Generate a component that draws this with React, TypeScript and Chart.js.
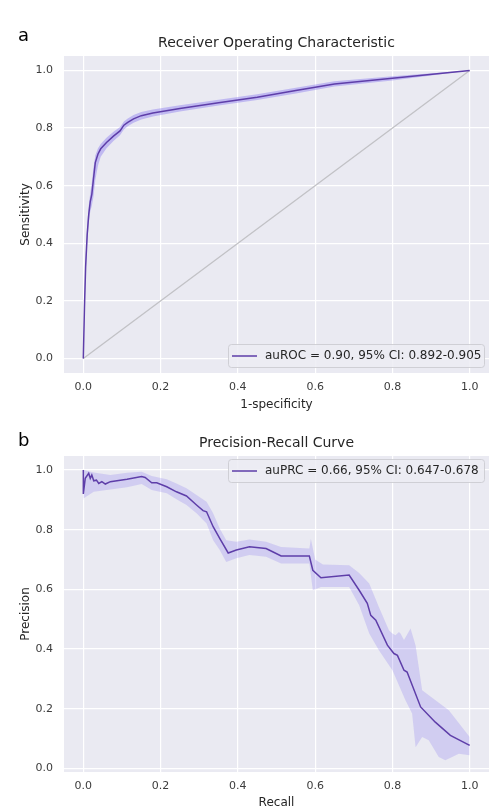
import React, { useEffect, useRef } from "react";
import { Chart, registerables } from "chart.js";

Chart.register(...registerables);

// ---- tick positions shared by both panels ----
const tickValues = [0, 0.2, 0.4, 0.6, 0.8, 1.0];

// ---- ROC curve: mean curve and 95% CI band ----
const rocFpr = [0, 0.003, 0.006, 0.01, 0.014, 0.018, 0.022, 0.026, 0.031, 0.038, 0.045, 0.06, 0.078, 0.095, 0.105, 0.115, 0.13, 0.15, 0.18, 0.25, 0.35, 0.45, 0.55, 0.65, 0.8, 1.0];
const rocTpr = [0, 0.18, 0.32, 0.43, 0.5, 0.545, 0.57, 0.62, 0.68, 0.71, 0.728, 0.75, 0.772, 0.79, 0.81, 0.82, 0.832, 0.843, 0.852, 0.868, 0.888, 0.907, 0.93, 0.953, 0.973, 1.0];
const rocTprUpper = [0, 0.21, 0.35, 0.46, 0.53, 0.575, 0.61, 0.66, 0.705, 0.73, 0.745, 0.766, 0.787, 0.804, 0.823, 0.833, 0.845, 0.856, 0.864, 0.879, 0.898, 0.917, 0.94, 0.962, 0.98, 1.0];
const rocTprLower = [0, 0.15, 0.29, 0.4, 0.47, 0.51, 0.53, 0.56, 0.62, 0.67, 0.7, 0.73, 0.755, 0.775, 0.795, 0.806, 0.818, 0.83, 0.84, 0.857, 0.878, 0.897, 0.92, 0.944, 0.965, 1.0];
const chanceX = [0, 1];
const chanceY = [0, 1];

// ---- Precision-recall curve and 95% CI band ----
const prRecall = [0, 0, 0.005, 0.014, 0.018, 0.022, 0.027, 0.034, 0.04, 0.048, 0.057, 0.07, 0.113, 0.151, 0.16, 0.177, 0.19, 0.216, 0.241, 0.267, 0.293, 0.31, 0.319, 0.336, 0.353, 0.375, 0.396, 0.43, 0.473, 0.49, 0.512, 0.585, 0.594, 0.615, 0.688, 0.714, 0.735, 0.744, 0.757, 0.787, 0.804, 0.813, 0.83, 0.838, 0.873, 0.911, 0.95, 1.0];
const prPrecision = [1.0, 0.92, 0.972, 0.989, 0.972, 0.983, 0.964, 0.966, 0.955, 0.961, 0.953, 0.961, 0.969, 0.978, 0.975, 0.957, 0.957, 0.944, 0.927, 0.913, 0.883, 0.864, 0.86, 0.81, 0.771, 0.722, 0.732, 0.743, 0.737, 0.726, 0.712, 0.712, 0.664, 0.639, 0.648, 0.597, 0.553, 0.513, 0.497, 0.413, 0.385, 0.379, 0.329, 0.323, 0.206, 0.155, 0.111, 0.077];

const prUpperRecall = [0, 0.001, 0.027, 0.07, 0.113, 0.151, 0.177, 0.216, 0.241, 0.267, 0.293, 0.319, 0.336, 0.353, 0.37, 0.396, 0.43, 0.473, 0.512, 0.585, 0.589, 0.6, 0.62, 0.688, 0.714, 0.74, 0.765, 0.791, 0.799, 0.808, 0.817, 0.821, 0.83, 0.847, 0.86, 0.877, 0.946, 1.0];
const prUpperPrecision = [1.0, 1.0, 0.992, 0.983, 0.991, 0.994, 0.98, 0.969, 0.955, 0.939, 0.916, 0.894, 0.855, 0.804, 0.765, 0.76, 0.767, 0.76, 0.742, 0.737, 0.77, 0.7, 0.683, 0.681, 0.655, 0.62, 0.541, 0.463, 0.453, 0.446, 0.457, 0.452, 0.43, 0.469, 0.412, 0.262, 0.195, 0.105];

const prLowerRecall = [0, 0.001, 0.027, 0.07, 0.113, 0.151, 0.177, 0.216, 0.241, 0.267, 0.293, 0.319, 0.336, 0.353, 0.37, 0.396, 0.43, 0.473, 0.512, 0.585, 0.594, 0.615, 0.688, 0.714, 0.74, 0.765, 0.8, 0.834, 0.851, 0.86, 0.877, 0.894, 0.92, 0.937, 0.972, 1.0];
const prLowerPrecision = [0.9, 0.905, 0.927, 0.935, 0.942, 0.953, 0.933, 0.922, 0.902, 0.883, 0.855, 0.821, 0.765, 0.732, 0.692, 0.704, 0.715, 0.709, 0.687, 0.687, 0.597, 0.608, 0.608, 0.547, 0.452, 0.396, 0.329, 0.228, 0.184, 0.071, 0.105, 0.094, 0.038, 0.027, 0.049, 0.044];

const rocLegend = "auROC = 0.90, 95% CI: 0.892-0.905";
const prLegend = "auPRC = 0.66, 95% CI: 0.647-0.678";

// ---- styling ----
const FONT = "'DejaVu Sans', 'Noto Sans', sans-serif";
const TEXT = "#262626";
const TICK_TEXT = "#3c3c3c";
const AXES_BG = "#eaeaf2";
const LINE = "#5e3ea9";
const BAND_ROC = "rgba(123, 104, 238, 0.38)";
const BAND_PR = "rgba(123, 104, 238, 0.22)";
const CHANCE = "#c2c2c6";
const CLEAR = "rgba(0,0,0,0)";

const points = (xs: number[], ys: number[]) => xs.map((x, i) => ({ x, y: ys[i] }));

// Paints the grey axes background under the grid.
const axesBackground = {
  id: "axesBackground",
  beforeDraw(chart: any) {
    const { ctx, chartArea } = chart;
    ctx.save();
    ctx.fillStyle = AXES_BG;
    ctx.fillRect(chartArea.left, chartArea.top, chartArea.right - chartArea.left, chartArea.bottom - chartArea.top);
    ctx.restore();
  },
};

// Panel letter, title and framed legend.
const panelDecor = {
  id: "panelDecor",
  afterDraw(chart: any, _args: any, opts: any) {
    const { ctx, chartArea } = chart;
    ctx.save();

    ctx.fillStyle = "#000";
    ctx.font = `18px ${FONT}`;
    ctx.textAlign = "left";
    ctx.textBaseline = "alphabetic";
    ctx.fillText(opts.letter, 18, chartArea.top - opts.letterOffset);

    ctx.fillStyle = TEXT;
    ctx.font = `14px ${FONT}`;
    ctx.textAlign = "center";
    ctx.fillText(opts.title, (chartArea.left + chartArea.right) / 2, chartArea.top - 9.5);

    const w = 256;
    const h = 23;
    const x = chartArea.right - 5 - w;
    const y = opts.legendLower ? chartArea.bottom - 6 - h : chartArea.top + 3;
    ctx.beginPath();
    ctx.roundRect(x + 0.5, y + 0.5, w, h, 3);
    ctx.fillStyle = "rgba(236, 236, 243, 0.85)";
    ctx.fill();
    ctx.strokeStyle = "rgba(204, 204, 210, 0.9)";
    ctx.lineWidth = 1;
    ctx.stroke();

    const cy = y + h / 2 + 0.5;
    ctx.beginPath();
    ctx.moveTo(x + 4, cy);
    ctx.lineTo(x + 29, cy);
    ctx.strokeStyle = LINE;
    ctx.lineWidth = 1.5;
    ctx.stroke();

    ctx.fillStyle = TEXT;
    ctx.font = `12px ${FONT}`;
    ctx.textAlign = "left";
    ctx.textBaseline = "middle";
    ctx.fillText(opts.legend, x + 37, cy);

    ctx.restore();
  },
};

function axis(title: string, min: number, max: number, horizontal: boolean, size: number) {
  return {
    type: "linear",
    min,
    max,
    afterBuildTicks: (s: any) => {
      s.ticks = tickValues.map((value) => ({ value }));
    },
    afterFit: (s: any) => {
      if (horizontal) s.height = size;
      else s.width = size;
    },
    grid: { color: "#ffffff", lineWidth: 1.2, drawTicks: false },
    border: { display: false },
    ticks: {
      padding: horizontal ? 8 : 11,
      color: TICK_TEXT,
      font: { family: FONT, size: 11 },
      callback: (v: any) => Number(v).toFixed(1),
    },
    title: {
      display: true,
      text: title,
      color: TEXT,
      font: { family: FONT, size: 12 },
      padding: horizontal ? { top: 0, bottom: 0 } : { top: 19, bottom: 0 },
    },
  };
}

function rocConfig(): any {
  return {
    type: "line",
    data: {
      datasets: [
        { label: rocLegend, data: points(rocFpr, rocTpr), borderColor: LINE, borderWidth: 1.5, pointRadius: 0, fill: false },
        { label: "upper", data: points(rocFpr, rocTprUpper), borderColor: CLEAR, borderWidth: 0, pointRadius: 0, fill: false },
        { label: "lower", data: points(rocFpr, rocTprLower), borderColor: CLEAR, borderWidth: 0, pointRadius: 0, fill: "-1", backgroundColor: BAND_ROC },
        { label: "chance", data: points(chanceX, chanceY), borderColor: CHANCE, borderWidth: 1.3, pointRadius: 0, fill: false },
      ],
    },
    options: {
      animation: false,
      responsive: false,
      events: [],
      layout: { padding: { top: 56, left: 0, right: 1, bottom: 0 } },
      plugins: {
        legend: { display: false },
        tooltip: { enabled: false },
        panelDecor: { letter: "a", letterOffset: 15, title: "Receiver Operating Characteristic", legend: rocLegend, legendLower: true },
      },
      scales: {
        x: axis("1-specificity", -0.05, 1.05, true, 39),
        y: axis("Sensitivity", -0.05, 1.05, false, 64),
      },
    },
    plugins: [axesBackground, panelDecor],
  };
}

function prConfig(): any {
  return {
    type: "line",
    data: {
      datasets: [
        { label: prLegend, data: points(prRecall, prPrecision), borderColor: LINE, borderWidth: 1.5, pointRadius: 0, fill: false },
        { label: "upper", data: points(prUpperRecall, prUpperPrecision), borderColor: CLEAR, borderWidth: 0, pointRadius: 0, fill: false },
        { label: "lower", data: points(prLowerRecall, prLowerPrecision), borderColor: CLEAR, borderWidth: 0, pointRadius: 0, fill: "-1", backgroundColor: BAND_PR },
      ],
    },
    options: {
      animation: false,
      responsive: false,
      events: [],
      layout: { padding: { top: 46, left: 0, right: 1, bottom: 0 } },
      plugins: {
        legend: { display: false },
        tooltip: { enabled: false },
        panelDecor: { letter: "b", letterOffset: 10, title: "Precision-Recall Curve", legend: prLegend, legendLower: false },
      },
      scales: {
        x: axis("Recall", -0.05, 1.05, true, 38),
        y: axis("Precision", -0.012, 1.047, false, 64),
      },
    },
    plugins: [axesBackground, panelDecor],
  };
}

export default function App() {
  const rocRef = useRef<HTMLCanvasElement | null>(null);
  const prRef = useRef<HTMLCanvasElement | null>(null);

  useEffect(() => {
    const roc = new Chart(rocRef.current as HTMLCanvasElement, rocConfig());
    const pr = new Chart(prRef.current as HTMLCanvasElement, prConfig());
    return () => {
      roc.destroy();
      pr.destroy();
    };
  }, []);

  return (
    <div style={{ position: "fixed", left: 0, top: 0, width: 490, height: 808, overflow: "hidden", background: "#ffffff" }}>
      <canvas ref={rocRef} width={490} height={412} style={{ position: "absolute", left: 0, top: 0, width: 490, height: 412 }} />
      <canvas ref={prRef} width={490} height={400} style={{ position: "absolute", left: 0, top: 410, width: 490, height: 400 }} />
    </div>
  );
}
